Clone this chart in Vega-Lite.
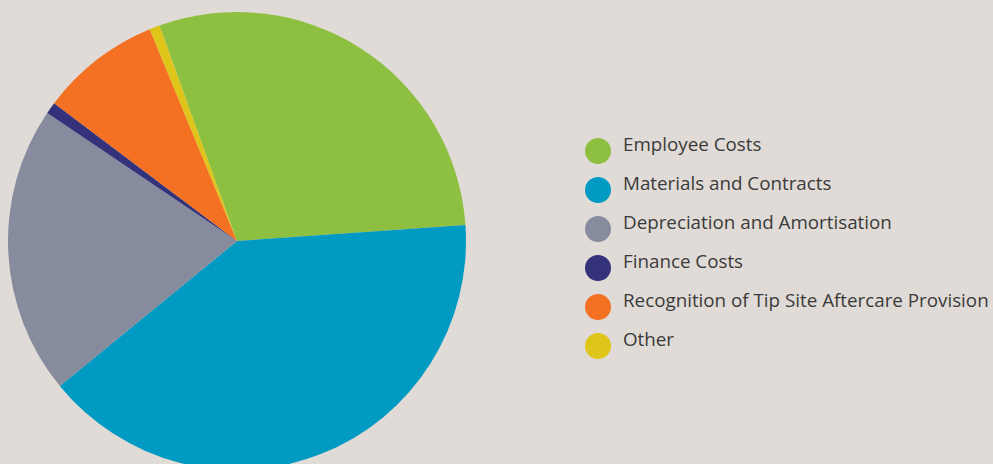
{
  "$schema": "https://vega.github.io/schema/vega-lite/v6.json",
  "autosize": {"type": "none"},
  "padding": {"left": 0, "top": 18, "right": 519, "bottom": 0},
  "width": 474,
  "height": 446,
  "background": "#e0dbd6",
  "config": {"view": {"stroke": null}},
  "data": {
    "values": [
      {"category": "Employee Costs", "value": 29.39, "order": 1},
      {"category": "Materials and Contracts", "value": 40.19, "order": 2},
      {"category": "Depreciation and Amortisation", "value": 20.36, "order": 3},
      {"category": "Finance Costs", "value": 0.83, "order": 4},
      {"category": "Recognition of Tip Site Aftercare Provision", "value": 8.5, "order": 5},
      {"category": "Other", "value": 0.72, "order": 6}
    ]
  },
  "mark": {"type": "arc", "radius": 229},
  "encoding": {
    "theta": {"field": "value", "type": "quantitative", "stack": true, "scale": {"range": [-0.3456, 5.9376]}},
    "order": {"field": "order", "type": "quantitative"},
    "color": {
      "field": "category",
      "type": "nominal",
      "scale": {
        "domain": ["Employee Costs", "Materials and Contracts", "Depreciation and Amortisation", "Finance Costs", "Recognition of Tip Site Aftercare Provision", "Other"],
        "range": ["#8dbf41", "#009ac2", "#878b9e", "#33327a", "#f47022", "#dfc519"]
      },
      "legend": {
        "title": null,
        "orient": "none",
        "legendX": 585,
        "legendY": 120,
        "symbolType": "circle",
        "symbolSize": 676,
        "symbolStrokeWidth": 0,
        "symbolOpacity": 1,
        "rowPadding": 11,
        "labelOffset": 12,
        "labelFont": "Open Sans",
        "labelFontSize": 18.8,
        "labelBaseline": "alphabetic",
        "labelColor": "#3a3a3a",
        "labelLimit": 500
      }
    }
  }
}
